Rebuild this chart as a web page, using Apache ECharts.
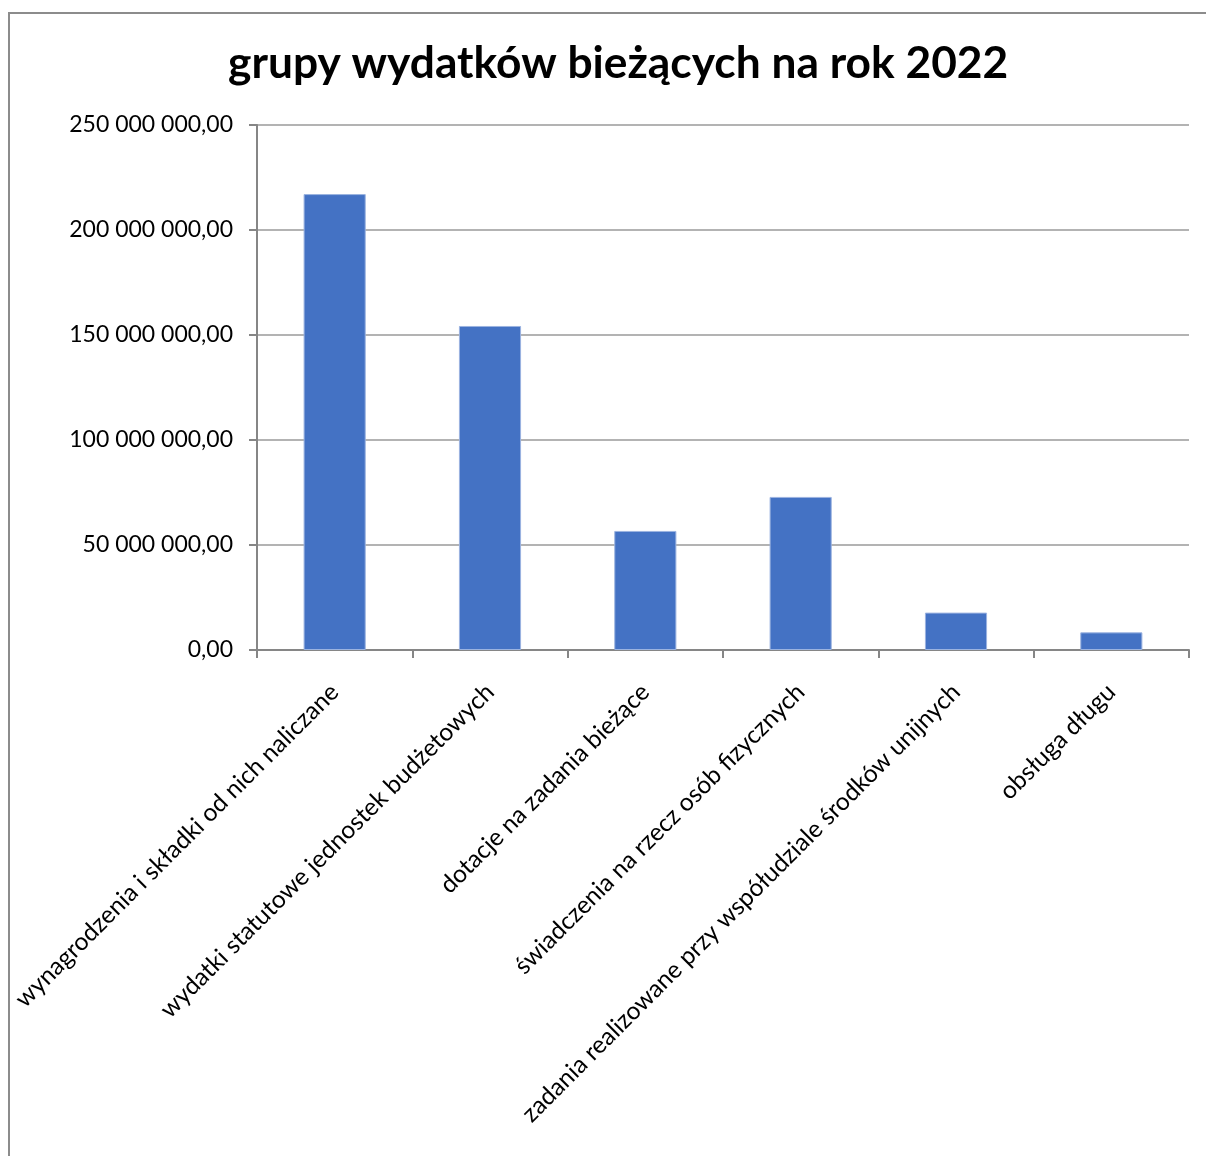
<!DOCTYPE html>
<html>
<head>
<meta charset="utf-8">
<script src="https://cdn.jsdelivr.net/npm/echarts@6/dist/echarts.min.js"></script>
<style>
html,body{margin:0;padding:0;background:#fff;}
#chart{width:1206px;height:1156px;}
</style>
</head>
<body>
<div id="chart"></div>
<script>
const titleText = 'grupy wydatków bieżących na rok 2022';
const categories = [
  'wynagrodzenia i składki od nich naliczane',
  'wydatki statutowe jednostek budżetowych',
  'dotacje na zadania bieżące',
  'świadczenia na rzecz osób fizycznych',
  'zadania realizowane przy współudziale środków unijnych',
  'obsługa długu'
];
const values = [217100000, 154300000, 56700000, 72900000, 17800000, 8400000];
const yTicks = [0, 50000000, 100000000, 150000000, 200000000, 250000000];

function fmt(v) {
  const s = Math.round(v).toString().replace(/\B(?=(\d{3})+(?!\d))/g, ' ');
  return s + ',00';
}

const chart = echarts.init(document.getElementById('chart'));
chart.setOption({
  animation: false,
  backgroundColor: '#ffffff',
  textStyle: { fontFamily: 'Lato' },
  title: {
    text: titleText,
    left: 223,
    top: 37,
    textStyle: { fontFamily: 'Lato', fontWeight: 'bold', fontSize: 44.3, color: '#000' }
  },
  graphic: [{
    type: 'polyline',
    shape: { points: [[9, 1160], [9, 13], [1210, 13]] },
    style: { stroke: '#8c8c8c', lineWidth: 2, fill: null }
  }],
  grid: { left: 257, right: 17, top: 125, bottom: 506, containLabel: false },
  xAxis: {
    type: 'category',
    data: categories,
    axisLine: { lineStyle: { color: '#868686', width: 2 } },
    axisTick: { show: true, alignWithLabel: false, length: 8, lineStyle: { color: '#868686', width: 2 } },
    axisLabel: { rotate: 45, interval: 0, margin: 38, fontSize: 24.5, color: '#000', fontFamily: 'Lato' }
  },
  yAxis: {
    type: 'value',
    min: 0,
    max: yTicks[yTicks.length - 1],
    interval: yTicks[1] - yTicks[0],
    axisLine: { show: true, lineStyle: { color: '#868686', width: 2 } },
    axisTick: { show: true, length: 8, lineStyle: { color: '#868686', width: 2 } },
    splitLine: { show: true, lineStyle: { color: '#9a9a9a', width: 1.5 } },
    axisLabel: { formatter: fmt, margin: 24, fontSize: 23, color: '#000', fontFamily: 'Lato' }
  },
  series: [{
    type: 'bar',
    data: values,
    barWidth: '40%',
    itemStyle: { color: '#4472c4', borderColor: '#9bb3e0', borderWidth: 1 }
  }]
});
</script>
</body>
</html>
